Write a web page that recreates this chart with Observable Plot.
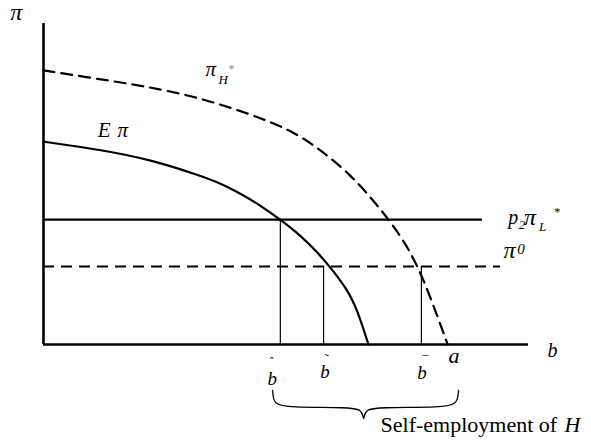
<!DOCTYPE html>
<html>
<head>
<meta charset="utf-8">
<script src="https://cdn.jsdelivr.net/npm/d3@7"></script>
<script src="https://cdn.jsdelivr.net/npm/@observablehq/plot@0.6"></script>
<style>
  html, body { margin: 0; padding: 0; background: #fff; }
  #chart svg { display: block; }
</style>
</head>
<body>
<div id="chart"></div>
<script>
// ---- Data (b on horizontal axis, pi on vertical axis; a = 100) ----
const ePiB   = [0, 14.1, 26.5, 38.8, 43.8, 48.7, 53.7, 58.6, 63.6, 67.8, 71.0, 75.2, 77.7, 80.4];
const ePiVal = [63.2, 60.7, 57.6, 52.6, 50.2, 47.1, 43.3, 38.9, 34.0, 28.7, 24.0, 17.1, 10.6, 0];

const piHB   = [0, 14.1, 24.0, 36.4, 48.7, 61.1, 68.5, 75.9, 81.6, 85.4, 89.1, 92.5, 95.8, 100];
const piHVal = [85.4, 82.6, 80.7, 77.6, 72.9, 67.0, 60.7, 53.0, 44.9, 38.9, 32.4, 24.6, 14.6, 0];

const p2PiL = 38.9;   // level of p2 * piL*
const pi0   = 24.3;   // level of pi^0
const bHat = 58.6, bTilde = 69.3, bBar = 93.5, aVal = 100;
const xMax = 120, yMax = 100;
const p2End = 108.6, pi0End = 113.1;

// brace under the axis from b-hat to a
const braceX = [56.7, 56.9, 60.6, 75.5, 78.7, 79.2, 79.2, 79.2, 79.7, 82.9, 98.7, 102.4, 102.7];
const braceY = [-14.3, -18.7, -19.6, -19.6, -20.2, -23.1, -23.1, -23.1, -20.2, -19.6, -19.6, -18.7, -14.3];

// ---- Annotation texts ----
const labelsMath = [
  {x: -8.2, y: 101.2, t: "π", s: 24},
  {x: 40.1, y: 83.8, t: "π", s: 21},
  {x: 43.3, y: 81.2, t: "H", s: 13},
  {x: 13.4, y: 64.5, t: "E", s: 21},
  {x: 18.3, y: 64.5, t: "π", s: 21},
  {x: 115.0, y: 37.4, t: "p", s: 20},
  {x: 117.6, y: 36.1, t: "2", s: 13},
  {x: 118.9, y: 37.1, t: "π", s: 24},
  {x: 122.6, y: 35.5, t: "L", s: 13},
  {x: 113.8, y: 26.8, t: "π", s: 24},
  {x: 117.2, y: 28.3, t: "0", s: 15},
  {x: 124.7, y: -4.0, t: "b", s: 20},
  {x: 100.2, y: -5.9, t: "a", s: 22},
  {x: 55.4, y: -12.5, t: "b", s: 19},
  {x: 68.5, y: -10.3, t: "b", s: 19},
  {x: 92.5, y: -10.6, t: "b", s: 19}
];
const labelsStar = [
  {x: 45.8, y: 84.7, t: "*", c: "#888"},
  {x: 126.4, y: 39.9, t: "*", c: "#000"}
];
const accents = [
  {x: 56.5, y: -6.8, t: "ˆ"},
  {x: 70.1, y: -5.8, t: "˜"},
  {x: 94.5, y: -6.5, t: "¯"}
];
const caption = [{x: 83.4, y: -27.4, t: "Self-employment of"}];
const captionH = [{x: 128.9, y: -27.4, t: "H"}];

const ePi = ePiB.map((b, i) => ({b, v: ePiVal[i]}));
const piH = piHB.map((b, i) => ({b, v: piHVal[i]}));
const brace = braceX.map((b, i) => ({b, v: braceY[i]}));

const serif = "Liberation Serif";

const chart = Plot.plot({
  width: 591,
  height: 441,
  margin: 0,
  x: {domain: [0, xMax], range: [43, 528], axis: null},
  y: {domain: [0, yMax], range: [344, 23], axis: null},
  marks: [
    // axes
    Plot.ruleX([0], {y1: 0, y2: yMax, strokeWidth: 2.6, stroke: "#000"}),
    Plot.ruleY([0], {x1: 0, x2: xMax, strokeWidth: 2.6, stroke: "#000"}),
    // horizontal levels
    Plot.ruleY([p2PiL], {x1: 0, x2: p2End, strokeWidth: 2.2, stroke: "#000"}),
    Plot.ruleY([pi0], {x1: 0, x2: pi0End, strokeWidth: 2.2, stroke: "#000", strokeDasharray: "11,7"}),
    // vertical guides
    Plot.ruleX([bHat], {y1: 0, y2: p2PiL, strokeWidth: 1.2, stroke: "#000"}),
    Plot.ruleX([bTilde], {y1: 0, y2: pi0, strokeWidth: 1.2, stroke: "#000"}),
    Plot.ruleX([bBar], {y1: 0, y2: pi0, strokeWidth: 1.2, stroke: "#000"}),
    // curves
    Plot.line(ePi, {x: "b", y: "v", curve: "basis", strokeWidth: 2.2, stroke: "#000"}),
    Plot.line(piH, {x: "b", y: "v", curve: "basis", strokeWidth: 2.2, stroke: "#000", strokeDasharray: "11,7"}),
    // brace
    Plot.line(brace, {x: "b", y: "v", curve: "basis", strokeWidth: 1.3, stroke: "#000"}),
    // labels
    Plot.text(labelsMath, {x: "x", y: "y", text: "t", fontSize: "s", textAnchor: "start", lineAnchor: "bottom",
      fontFamily: serif, fontStyle: "italic", fill: "#000"}),
    Plot.text(labelsStar, {x: "x", y: "y", text: "t", fontSize: 12, textAnchor: "start", lineAnchor: "bottom",
      fontFamily: serif, fill: "c"}),
    Plot.text(accents, {x: "x", y: "y", text: "t", fontSize: 12, textAnchor: "middle", lineAnchor: "bottom",
      fontFamily: serif, fill: "#000"}),
    Plot.text(caption, {x: "x", y: "y", text: "t", fontSize: 22, textAnchor: "start", lineAnchor: "bottom",
      fontFamily: serif, fill: "#000"}),
    Plot.text(captionH, {x: "x", y: "y", text: "t", fontSize: 22, textAnchor: "start", lineAnchor: "bottom",
      fontFamily: serif, fontStyle: "italic", fill: "#000"})
  ]
});
document.getElementById("chart").appendChild(chart);
</script>
</body>
</html>
